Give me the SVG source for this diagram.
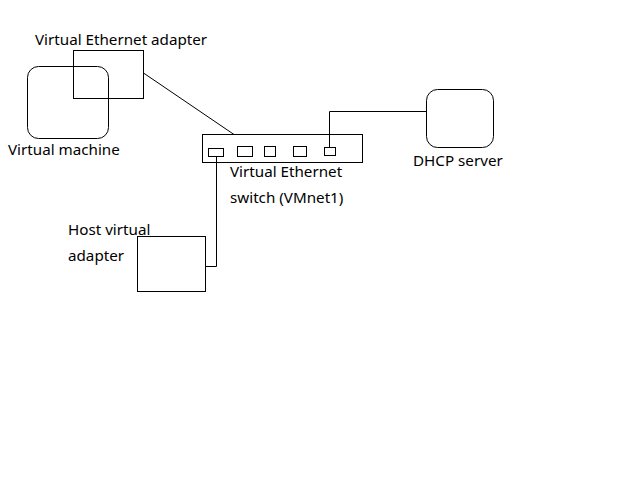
<svg xmlns="http://www.w3.org/2000/svg" width="628" height="494" viewBox="0 0 628 494">
<style>
.s{fill:none;stroke:#000;stroke-width:1}
text{font-family:"Noto Sans","Liberation Sans",sans-serif;font-size:15.2px;fill:#000}
</style>
<rect width="628" height="494" fill="#fff"/>
<g id="connectors">
<line class="s" x1="143.5" y1="73" x2="234" y2="134.5"/>
<polyline class="s" points="329.5,147.5 329.5,111.5 426.5,111.5"/>
<polyline class="s" points="216.5,156.5 216.5,266.5 205.5,266.5"/>
</g>
<g id="virtual-machine">
<rect class="s" x="27.5" y="66.5" width="81" height="72" rx="11"/>
<text x="8" y="155">Virtual machine</text>
</g>
<g id="virtual-ethernet-adapter">
<rect class="s" x="73.5" y="50.5" width="70" height="48"/>
<text x="35" y="45">Virtual Ethernet adapter</text>
</g>
<g id="switch">
<rect class="s" x="202.5" y="134.5" width="160" height="28"/>
<rect class="s" x="208.5" y="148.5" width="15" height="8"/>
<rect class="s" x="237.5" y="146.5" width="15" height="10"/>
<rect class="s" x="264.5" y="146.5" width="11" height="10"/>
<rect class="s" x="293.5" y="146.5" width="13" height="10"/>
<rect class="s" x="324.5" y="147.5" width="11" height="8"/>
<text x="230" y="177">Virtual Ethernet</text>
<text x="230" y="203">switch (VMnet1)</text>
</g>
<g id="dhcp-server">
<rect class="s" x="426.5" y="89.5" width="67" height="58" rx="11"/>
<text x="413" y="166">DHCP server</text>
</g>
<g id="host-virtual-adapter">
<text x="68" y="235">Host virtual</text>
<text x="68" y="261">adapter</text>
<rect class="s" x="137.5" y="236.5" width="68" height="55"/>
</g>
</svg>
